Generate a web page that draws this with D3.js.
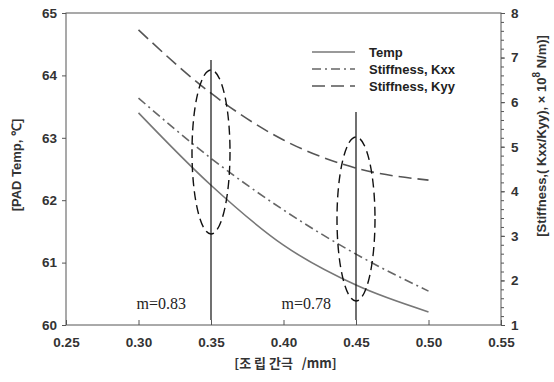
<!DOCTYPE html>
<html>
<head>
<meta charset="utf-8">
<script src="https://cdn.jsdelivr.net/npm/d3@7"></script>
<style>
  body { margin: 0; background: #fff; }
  svg { display: block; font-family: Arial, "Liberation Sans", sans-serif; }
  .tick text { font-weight: bold; font-size: 13.5px; fill: #333; }
  .axis path, .axis line { stroke: #555; }
</style>
</head>
<body>
<svg width="554" height="382"></svg>
<script>
// values
const GAP = [0.30, 0.35, 0.40, 0.45, 0.50]
const TEMP = [63.40, 62.24, 61.28, 60.64, 60.21]
const KXX = [6.09, 4.74, 3.58, 2.59, 1.76]
const KYY = [7.62, 6.20, 5.15, 4.52, 4.25]
const X_TICKS = [0.25, 0.30, 0.35, 0.40, 0.45, 0.50, 0.55]
const MARKS = [0.35, 0.45]
const M_LABELS = ['m=0.83', 'm=0.78']

const svg = d3.select('svg')
const pLeft = 66, pRight = 501, pTop = 13, pBottom = 325

const x = d3.scaleLinear().domain([0.25, 0.55]).range([pLeft, pRight])
const yL = d3.scaleLinear().domain([60, 65]).range([pBottom, pTop])
const yR = d3.scaleLinear().domain([1, 8]).range([pBottom, pTop])

// frame
svg.append('rect')
  .attr('x', pLeft).attr('y', pTop)
  .attr('width', pRight - pLeft).attr('height', pBottom - pTop)
  .attr('fill', 'none').attr('stroke', '#555')

svg.append('g').classed('axis', true)
  .attr('transform', `translate(0,${pBottom})`)
  .call(d3.axisBottom(x).tickValues(X_TICKS).tickFormat(d3.format('.2f')).tickSizeInner(-5).tickSizeOuter(0).tickPadding(12))

svg.append('g').classed('axis', true)
  .attr('transform', `translate(${pLeft},0)`)
  .call(d3.axisLeft(yL).ticks(5).tickSize(4).tickPadding(5))

// right axis: minor ticks then major
svg.append('g').classed('axis', true)
  .attr('transform', `translate(${pRight},0)`)
  .call(d3.axisRight(yR).tickValues(d3.range(1, 8.01, 0.2)).tickSize(3).tickFormat(''))
svg.append('g').classed('axis', true)
  .attr('transform', `translate(${pRight},0)`)
  .call(d3.axisRight(yR).ticks(7).tickSize(4).tickPadding(6))

svg.selectAll('.axis .domain').remove()

const smooth = d3.curveMonotoneX
const lineL = d3.line().x((d, i) => x(GAP[i])).y(d => yL(d)).curve(smooth)
const lineR = d3.line().x((d, i) => x(GAP[i])).y(d => yR(d)).curve(smooth)

svg.append('path').attr('d', lineL(TEMP))
  .attr('fill', 'none').attr('stroke', '#777').attr('stroke-width', 1.6)
svg.append('path').attr('d', lineR(KXX))
  .attr('fill', 'none').attr('stroke', '#666').attr('stroke-width', 1.6)
  .attr('stroke-dasharray', '9,4,2,4')
svg.append('path').attr('d', lineR(KYY))
  .attr('fill', 'none').attr('stroke', '#555').attr('stroke-width', 1.6)
  .attr('stroke-dasharray', '13,6')

// marker lines, ellipses, labels
const markTop = [60, 112]
const ellCy = [152, 219]
svg.selectAll('.mark')
  .data(MARKS)
  .enter()
  .append('line')
  .classed('mark', true)
  .attr('x1', d => x(d)).attr('x2', d => x(d))
  .attr('y1', (d, i) => markTop[i]).attr('y2', pBottom - 5)
  .attr('stroke', '#111').attr('stroke-width', 1.2)

svg.selectAll('.ell')
  .data(MARKS)
  .enter()
  .append('ellipse')
  .attr('cx', d => x(d)).attr('cy', (d, i) => ellCy[i])
  .attr('rx', 19).attr('ry', 82)
  .attr('fill', 'none').attr('stroke', '#111').attr('stroke-width', 1.4)
  .attr('stroke-dasharray', '9,5')

svg.selectAll('.mlab')
  .data(M_LABELS)
  .enter()
  .append('text')
  .attr('x', (d, i) => x(MARKS[i]) - 25)
  .attr('y', 309)
  .attr('text-anchor', 'end')
  .style('font-family', '"Liberation Serif", "Times New Roman", serif')
  .style('font-size', '16px')
  .attr('fill', '#222')
  .text(d => d)

// legend
const legend = [
  { name: 'Temp', color: '#777', dash: null },
  { name: 'Stiffness, Kxx', color: '#666', dash: '9,4,2,4' },
  { name: 'Stiffness, Kyy', color: '#555', dash: '13,6' }
]
const lg = svg.append('g').attr('transform', 'translate(312,52)')
legend.forEach((d, i) => {
  lg.append('line')
    .attr('x1', 0).attr('x2', 43).attr('y1', i * 17).attr('y2', i * 17)
    .attr('stroke', d.color).attr('stroke-width', 1.6)
    .attr('stroke-dasharray', d.dash)
  lg.append('text')
    .attr('x', 57).attr('y', i * 17 + 5)
    .style('font-weight', 'bold').style('font-size', '13px').attr('fill', '#222')
    .text(d.name)
})

// axis titles
svg.append('text')
  .attr('transform', `translate(21,${(pTop + pBottom) / 2 - 4}) rotate(-90)`)
  .attr('text-anchor', 'middle')
  .style('font-weight', 'bold').style('font-size', '13px').attr('fill', '#333')
  .text('[PAD Temp, ℃]')

const rt = svg.append('text')
  .attr('transform', 'translate(546,136) rotate(-90)')
  .attr('text-anchor', 'middle')
  .style('font-weight', 'bold').style('font-size', '13px').attr('fill', '#333')
rt.append('tspan').text('[Stiffness,( Kxx/Kyy), × 10')
rt.append('tspan').attr('dy', -6).style('font-size', '10px').text('8')
rt.append('tspan').attr('dy', 6).text(' N/m)]')

svg.append('text')
  .attr('x', (pLeft + pRight) / 2 + 2).attr('y', 368)
  .attr('text-anchor', 'middle')
  .style('font-family', '"Noto Sans CJK KR", Arial, sans-serif')
  .style('font-weight', 'bold').style('font-size', '13px').attr('fill', '#333')
  .style('white-space', 'pre')
  .text('[조 립 간극   /mm]')
</script>
</body>
</html>
